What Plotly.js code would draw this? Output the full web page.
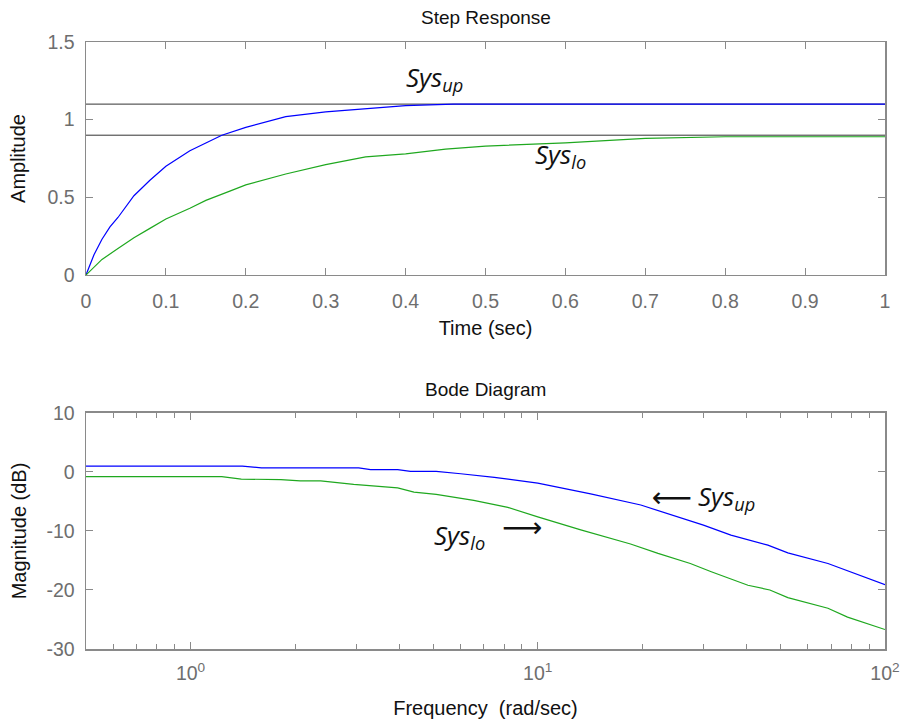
<!DOCTYPE html>
<html>
<head>
<meta charset="utf-8">
<script src="https://cdn.plot.ly/plotly-3.0.1.min.js"></script>
<style>html,body{margin:0;padding:0;background:#fff;}#chart{width:905px;height:726px;}</style>
</head>
<body>
<div id="chart"></div>
<script>
// Step response data
const stepTimeUp = [0, 0.01, 0.02, 0.03, 0.04, 0.05, 0.06, 0.07, 0.08, 0.10, 0.13, 0.15, 0.17, 0.20, 0.25, 0.30, 0.35, 0.40, 0.46, 0.60, 0.80, 1.00];
const stepAmpUp  = [0, 0.13, 0.23, 0.31, 0.37, 0.44, 0.51, 0.56, 0.61, 0.70, 0.80, 0.85, 0.90, 0.95, 1.02, 1.05, 1.07, 1.09, 1.10, 1.10, 1.10, 1.10];
const stepTimeLo = [0, 0.02, 0.04, 0.06, 0.08, 0.10, 0.13, 0.15, 0.18, 0.20, 0.25, 0.30, 0.35, 0.40, 0.45, 0.50, 0.60, 0.70, 0.80, 1.00];
const stepAmpLo  = [0, 0.10, 0.17, 0.24, 0.30, 0.36, 0.43, 0.48, 0.54, 0.58, 0.65, 0.71, 0.76, 0.78, 0.81, 0.83, 0.85, 0.88, 0.89, 0.89];
const boundTime = [0, 1];
const boundUpper = [1.1, 1.1];
const boundLower = [0.9, 0.9];

// Bode magnitude data
const freqUp = [0.5, 1.41, 1.6, 3.05, 3.3, 3.95, 4.3, 5.1, 6.0, 7.5, 10, 14.2, 19.8, 30, 36, 46, 52.5, 68.5, 100];
const magUp  = [1.0, 1.0, 0.7, 0.7, 0.4, 0.4, 0.1, 0.1, -0.3, -0.9, -1.9, -3.7, -5.6, -9.0, -10.7, -12.4, -13.7, -15.5, -19.1];
const freqLo = [0.5, 1.23, 1.4, 1.82, 2.07, 2.37, 2.95, 3.95, 4.4, 5.1, 6.54, 8.2, 10, 13.3, 18.5, 22.2, 27.5, 31.6, 40.3, 46.6, 52.5, 68.5, 78, 100];
const magLo  = [-0.8, -0.8, -1.2, -1.3, -1.5, -1.5, -2.1, -2.7, -3.4, -3.8, -4.8, -6.0, -7.6, -9.8, -12.2, -13.8, -15.5, -16.9, -19.2, -20.0, -21.3, -23.1, -24.6, -26.7];

// Tick labels
const stepXTicks = [0, 0.1, 0.2, 0.3, 0.4, 0.5, 0.6, 0.7, 0.8, 0.9, 1];
const stepXLabels = ['0', '0.1', '0.2', '0.3', '0.4', '0.5', '0.6', '0.7', '0.8', '0.9', '1'];
const stepYTicks = [0, 0.5, 1, 1.5];
const stepYLabels = ['0', '0.5', '1', '1.5'];
const bodeXTicks = [1, 10, 100];
const bodeXLabels = ['10<sup>0</sup>', '10<sup>1</sup>', '10<sup>2</sup>'];
const bodeXMinor = [0.6, 0.7, 0.8, 0.9, 2, 3, 4, 5, 6, 7, 8, 9, 20, 30, 40, 50, 60, 70, 80, 90];
const bodeYTicks = [-30, -20, -10, 0, 10];
const bodeYLabels = ['-30', '-20', '-10', '0', '10'];

const BLUE = '#0000ff', GREEN = '#1fa81f', BLACK = '#333333';
const AX = '#8a8a8a', TICKF = {family: 'Liberation Sans, Arial, sans-serif', size: 19.5, color: '#6e6e6e'};
const TITLEF = {family: 'Liberation Sans, Arial, sans-serif', size: 20, color: '#111111'};
const ANNF = {family: 'Open Sans, sans-serif', size: 26, color: '#111111'};
const ARRF = {family: 'DejaVu Sans', size: 28, color: '#111111'};

const traces = [
  {x: boundTime, y: boundUpper, xaxis: 'x', yaxis: 'y', mode: 'lines', line: {color: BLACK, width: 1}},
  {x: boundTime, y: boundLower, xaxis: 'x', yaxis: 'y', mode: 'lines', line: {color: BLACK, width: 1}},
  {x: stepTimeUp, y: stepAmpUp, xaxis: 'x', yaxis: 'y', mode: 'lines', line: {color: BLUE, width: 1.2}},
  {x: stepTimeLo, y: stepAmpLo, xaxis: 'x', yaxis: 'y', mode: 'lines', line: {color: GREEN, width: 1.2}},
  {x: freqUp, y: magUp, xaxis: 'x2', yaxis: 'y2', mode: 'lines', line: {color: BLUE, width: 1.2}},
  {x: freqLo, y: magLo, xaxis: 'x2', yaxis: 'y2', mode: 'lines', line: {color: GREEN, width: 1.2}}
];

const common = {showline: true, linecolor: AX, linewidth: 1.5, mirror: 'ticks', ticks: 'inside', ticklen: 7,
  tickcolor: AX, tickwidth: 1, showgrid: false, zeroline: false, tickfont: TICKF, fixedrange: true};

const layout = {
  width: 905, height: 726, showlegend: false,
  paper_bgcolor: '#fff', plot_bgcolor: '#fff',
  margin: {l: 86, r: 20, t: 42, b: 77},
  xaxis: Object.assign({}, common, {domain: [0, 1], anchor: 'y', range: [0, 1], tickmode: 'array',
    tickvals: stepXTicks, ticktext: stepXLabels, ticklabelstandoff: 8,
    title: {text: 'Time (sec)', font: TITLEF, standoff: 10}}),
  yaxis: Object.assign({}, common, {domain: [0.6162, 1], anchor: 'x', range: [0, 1.5], tickmode: 'array',
    tickvals: stepYTicks, ticktext: stepYLabels, ticklabelstandoff: 6,
    title: {text: 'Amplitude', font: TITLEF, standoff: 16}}),
  xaxis2: Object.assign({}, common, {domain: [0, 1], anchor: 'y2', type: 'log', range: [Math.log10(0.5), 2],
    tickmode: 'array', tickvals: bodeXTicks, ticktext: bodeXLabels, ticklabelstandoff: 6,
    minor: {tickmode: 'array', tickvals: bodeXMinor, ticks: 'inside', ticklen: 5, tickcolor: AX, tickwidth: 1},
    title: {text: 'Frequency\u00a0 (rad/sec)', font: TITLEF, standoff: 18}}),
  yaxis2: Object.assign({}, common, {domain: [0, 0.3888], anchor: 'x2', range: [-30, 10], tickmode: 'array',
    tickvals: bodeYTicks, ticktext: bodeYLabels, ticklabelstandoff: 6,
    title: {text: 'Magnitude (dB)', font: TITLEF, standoff: 14}}),
  annotations: [
    {xref: 'paper', yref: 'paper', x: 0.5, y: 1, yshift: 25, yanchor: 'middle', text: 'Step Response', showarrow: false,
      font: {family: 'Liberation Sans, Arial, sans-serif', size: 19, color: '#111'}},
    {xref: 'paper', yref: 'paper', x: 0.5, y: 0.3888, yshift: 23, yanchor: 'middle', text: 'Bode Diagram', showarrow: false,
      font: {family: 'Liberation Sans, Arial, sans-serif', size: 19, color: '#111'}},
    {xref: 'x', yref: 'y', x: 0.436, y: 1.27, text: '<i>Sys<sub>up</sub></i>', showarrow: false, font: ANNF},
    {xref: 'x', yref: 'y', x: 0.594, y: 0.77, text: '<i>Sys<sub>lo</sub></i>', showarrow: false, font: ANNF},
    {xref: 'x2', yref: 'y2', x: Math.log10(35), y: -4.2, text: '<i>Sys<sub>up</sub></i>', showarrow: false, font: ANNF},
    {xref: 'x2', yref: 'y2', x: Math.log10(5.95), y: -10.9, text: '<i>Sys<sub>lo</sub></i>', showarrow: false, font: ANNF},
    {xref: 'x2', yref: 'y2', x: Math.log10(24.4), y: -4.3, text: '\u27F5', showarrow: false, font: ARRF},
    {xref: 'x2', yref: 'y2', x: Math.log10(9.02), y: -9.4, text: '\u27F6', showarrow: false, font: ARRF}
  ]
};

Plotly.newPlot('chart', traces, layout, {staticPlot: true, displayModeBar: false});
</script>
</body>
</html>
